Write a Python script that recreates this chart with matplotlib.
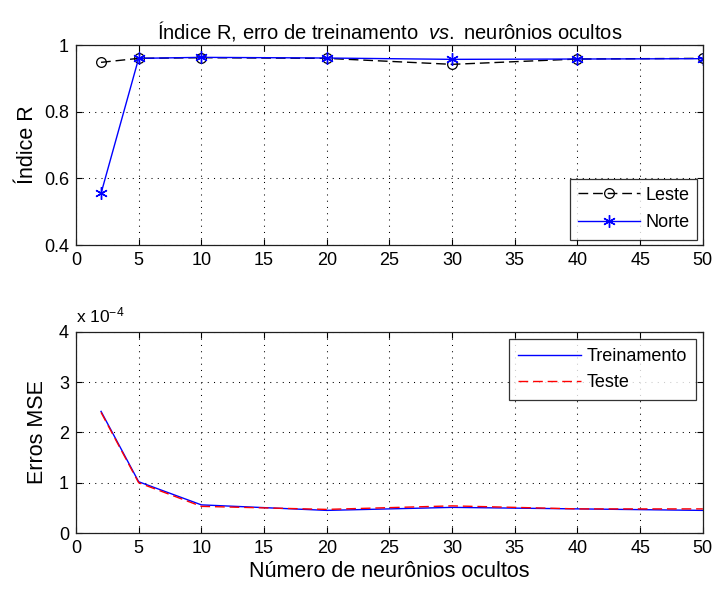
import matplotlib
matplotlib.use("Agg")
import matplotlib.pyplot as plt

plt.rcParams['font.family'] = ['Liberation Sans', 'DejaVu Sans']
plt.rcParams['mathtext.fontset'] = 'custom'
plt.rcParams['mathtext.rm'] = 'Liberation Sans'
plt.rcParams['mathtext.it'] = 'Liberation Sans:italic'

# data
neurons = [2, 5, 10, 20, 30, 40, 50]
r_leste = [0.948, 0.960, 0.962, 0.960, 0.942, 0.958, 0.960]
r_norte = [0.555, 0.960, 0.963, 0.961, 0.957, 0.958, 0.959]
mse_train = [2.42e-4, 1.02e-4, 0.56e-4, 0.45e-4, 0.51e-4, 0.48e-4, 0.45e-4]
mse_test = [2.40e-4, 1.00e-4, 0.53e-4, 0.47e-4, 0.54e-4, 0.48e-4, 0.48e-4]

x_ticks = list(range(0, 55, 5))
r_ticks = [0.4, 0.6, 0.8, 1.0]
r_tick_labels = ['0.4', '0.6', '0.8', '1']
mse_ticks = [0, 1, 2, 3, 4]

grid_style = dict(color='black', linestyle=(0, (1, 5)), linewidth=0.75)
dash = (0, (7, 3.5))


def style_axes(ax):
    ax.tick_params(direction='in', top=True, right=True, length=4,
                   width=0.8, labelsize=13, pad=5)
    for s in ax.spines.values():
        s.set_linewidth(0.9)
        s.set_color('#202020')
    ax.grid(True, **grid_style)
    ax.set_axisbelow(True)


fig = plt.figure(figsize=(7.14, 5.90), dpi=100)
ax1 = fig.add_axes([0.1064, 0.5847, 0.878, 0.339])
ax2 = fig.add_axes([0.1064, 0.0966, 0.878, 0.3407])

# top: R index
ax1.plot(neurons, r_leste, color='black', linestyle=dash, linewidth=1.0,
         marker='o', markersize=7, markerfacecolor='none', markeredgewidth=0.9,
         label='Leste')
ax1.plot(neurons, r_norte, color='blue', linestyle='-', linewidth=1.0,
         marker=(6, 2, 0), markersize=9, markeredgewidth=1.0, label='Norte')
ax1.set_xlim(0, 50)
ax1.set_ylim(0.4, 1.0)
ax1.set_xticks(x_ticks)
ax1.set_yticks(r_ticks)
ax1.set_yticklabels(r_tick_labels)
ax1.set_ylabel('Índice R', fontsize=15.5, labelpad=4)
ax1.set_title('Índice R, erro de treinamento  $\\mathit{vs.}$ neurônios ocultos',
              fontsize=14.5, pad=4.5)
style_axes(ax1)
leg1 = ax1.legend(loc='lower right', fontsize=13, frameon=True, fancybox=False,
                  edgecolor='black', borderaxespad=0.3, handlelength=3.4,
                  handletextpad=0.3, labelspacing=0.6, borderpad=0.45)
leg1.get_frame().set_linewidth(0.9)

# bottom: MSE (shown in units of 1e-4)
scale = 1e-4
ax2.plot(neurons, [v / scale for v in mse_train], color='blue', linestyle='-',
         linewidth=1.0, label='Treinamento')
ax2.plot(neurons, [v / scale for v in mse_test], color='red',
         linestyle=dash, linewidth=1.0, label='Teste')
ax2.set_xlim(0, 50)
ax2.set_ylim(0, 4)
ax2.set_xticks(x_ticks)
ax2.set_yticks(mse_ticks)
ax2.set_ylabel('Erros MSE', fontsize=15.5, labelpad=8)
ax2.set_xlabel('Número de neurônios ocultos', fontsize=15.5, labelpad=3)
ax2.text(0.0, 1.035, 'x 10$^{-4}$', transform=ax2.transAxes, fontsize=12.5,
         ha='left', va='bottom')
style_axes(ax2)
leg2 = ax2.legend(loc='upper right', fontsize=13, frameon=True, fancybox=False,
                  edgecolor='black', borderaxespad=0.4, handlelength=3.5,
                  handletextpad=0.3, labelspacing=0.5, borderpad=0.5)
leg2.get_frame().set_linewidth(0.9)

fig.savefig('out.png', dpi=100, facecolor='white')
